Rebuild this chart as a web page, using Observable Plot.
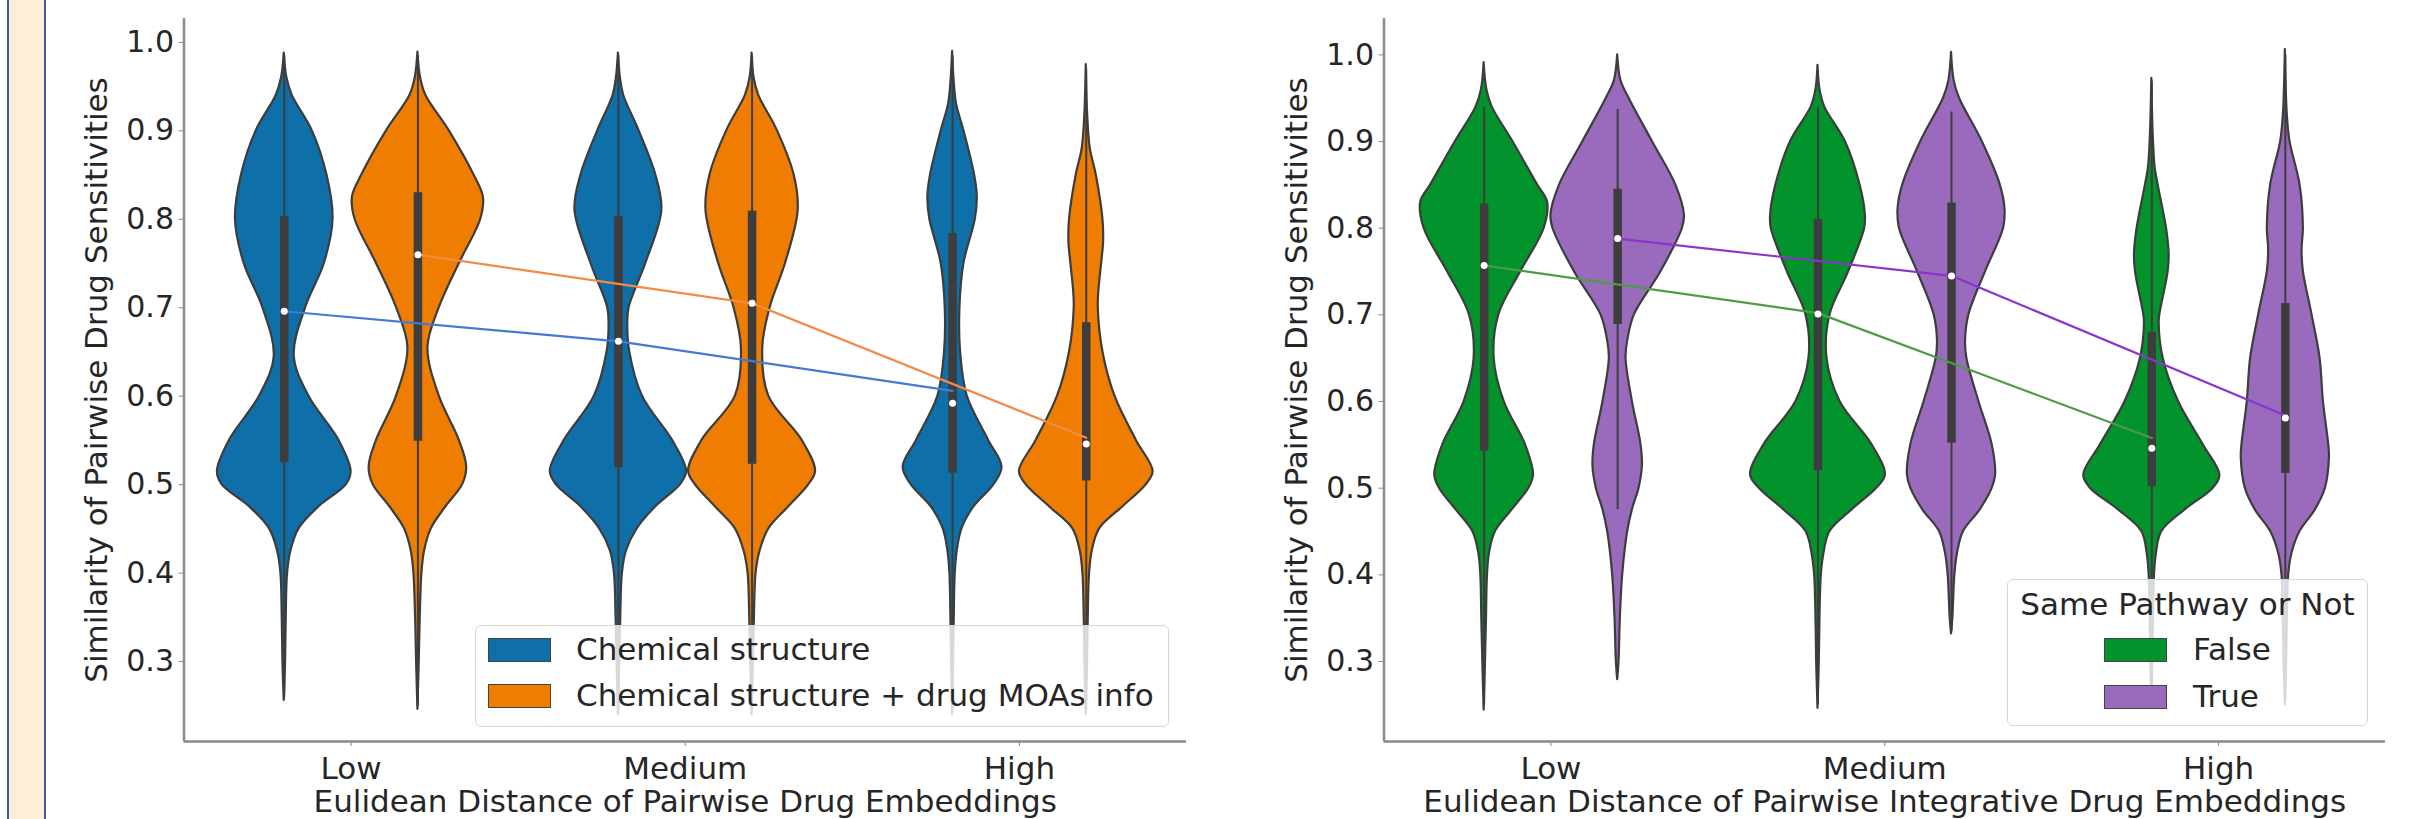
<!DOCTYPE html>
<html><head><meta charset="utf-8">
<script src="https://cdn.jsdelivr.net/npm/d3@7"></script>
<script src="https://cdn.jsdelivr.net/npm/@observablehq/plot@0.6"></script>
<style>
html,body{margin:0;padding:0;background:#fff;}
body{width:2414px;height:819px;overflow:hidden;font-family:"DejaVu Sans",sans-serif;}
#wrap{position:relative;width:2414px;height:819px;}
.panel{position:absolute;top:0;}
.cream{position:absolute;left:7px;top:0;width:35px;height:819px;background:#fdefd6;border-left:2px solid #3a5aa8;border-right:2px solid #3a5aa8;}
.legend{position:absolute;background:rgba(255,255,255,0.8);border:1.5px solid #d8d8d8;border-radius:6px;box-sizing:border-box;}
.sw{position:absolute;width:63px;height:24px;box-sizing:border-box;border:1.5px solid #444;}
.lt{position:absolute;line-height:1;white-space:nowrap;font-size:31px;color:#262626;font-family:"DejaVu Sans",sans-serif;}
</style></head>
<body><div id="wrap"></div>
<script>
// ---------- data ----------
const categories = ["Low", "Medium", "High"];
const yTicks = [0.3, 0.4, 0.5, 0.6, 0.7, 0.8, 0.9, 1.0];
const leftSeries = ["Chemical structure", "Chemical structure + drug MOAs info"];
const rightSeries = ["False", "True"];
const rightLegendTitle = "Same Pathway or Not";

// violin profiles: [value, relative half-width]
const chemLow = [[0.256,0],[0.30,0.02],[0.35,0.03],[0.40,0.05],[0.425,0.1],[0.45,0.22],[0.475,0.52],[0.50,0.93],[0.515,1.0],[0.55,0.82],[0.60,0.37],[0.645,0.15],[0.70,0.32],[0.75,0.6],[0.80,0.73],[0.85,0.64],[0.90,0.42],[0.94,0.12],[0.96,0.04],[0.988,0]];
const chemMed = [[0.24,0],[0.30,0.02],[0.35,0.035],[0.40,0.06],[0.425,0.12],[0.45,0.28],[0.475,0.56],[0.50,0.93],[0.515,1.02],[0.55,0.81],[0.60,0.36],[0.65,0.17],[0.68,0.14],[0.70,0.16],[0.75,0.41],[0.81,0.65],[0.85,0.56],[0.90,0.31],[0.94,0.08],[0.96,0.03],[0.988,0]];
const chemHigh = [[0.24,0],[0.30,0.015],[0.35,0.025],[0.40,0.04],[0.425,0.07],[0.45,0.14],[0.475,0.32],[0.50,0.62],[0.52,0.74],[0.55,0.54],[0.60,0.22],[0.65,0.12],[0.70,0.11],[0.75,0.17],[0.80,0.34],[0.825,0.37],[0.85,0.33],[0.90,0.17],[0.93,0.06],[0.96,0.02],[0.99,0]];
const moaLow = [[0.246,0],[0.30,0.02],[0.35,0.035],[0.40,0.06],[0.425,0.1],[0.45,0.2],[0.475,0.42],[0.50,0.67],[0.52,0.73],[0.55,0.62],[0.60,0.32],[0.655,0.15],[0.70,0.32],[0.75,0.62],[0.80,0.94],[0.825,0.98],[0.85,0.84],[0.90,0.47],[0.94,0.12],[0.96,0.04],[0.989,0]];
const moaMed = [[0.24,0],[0.30,0.02],[0.35,0.035],[0.40,0.06],[0.425,0.12],[0.45,0.25],[0.475,0.55],[0.50,0.85],[0.515,0.95],[0.55,0.75],[0.60,0.25],[0.655,0.16],[0.70,0.27],[0.75,0.5],[0.81,0.69],[0.85,0.63],[0.90,0.38],[0.94,0.1],[0.96,0.03],[0.988,0]];
const moaHigh = [[0.24,0],[0.30,0.02],[0.35,0.03],[0.40,0.05],[0.425,0.09],[0.45,0.2],[0.475,0.55],[0.50,0.9],[0.515,1.0],[0.55,0.75],[0.60,0.43],[0.65,0.25],[0.70,0.18],[0.72,0.19],[0.75,0.23],[0.775,0.26],[0.80,0.25],[0.85,0.15],[0.88,0.06],[0.92,0.02],[0.975,0]];
const falseLow = [[0.244,0],[0.30,0.02],[0.35,0.035],[0.40,0.05],[0.425,0.08],[0.45,0.17],[0.475,0.42],[0.50,0.67],[0.515,0.74],[0.55,0.62],[0.60,0.3],[0.65,0.15],[0.70,0.22],[0.75,0.55],[0.80,0.9],[0.83,0.95],[0.85,0.8],[0.90,0.43],[0.94,0.12],[0.96,0.04],[0.991,0]];
const falseMed = [[0.246,0],[0.30,0.02],[0.35,0.03],[0.40,0.05],[0.425,0.09],[0.45,0.18],[0.475,0.51],[0.50,0.88],[0.515,1.01],[0.55,0.81],[0.60,0.33],[0.65,0.135],[0.70,0.18],[0.75,0.46],[0.80,0.7],[0.815,0.71],[0.85,0.63],[0.90,0.41],[0.94,0.1],[0.96,0.03],[0.988,0]];
const falseHigh = [[0.25,0],[0.30,0.015],[0.35,0.025],[0.40,0.04],[0.425,0.07],[0.45,0.15],[0.475,0.5],[0.50,0.92],[0.515,1.02],[0.55,0.77],[0.60,0.4],[0.65,0.17],[0.69,0.11],[0.70,0.12],[0.75,0.245],[0.77,0.26],[0.80,0.22],[0.85,0.095],[0.87,0.05],[0.91,0.02],[0.973,0]];
const trueLow = [[0.279,0],[0.30,0.02],[0.35,0.04],[0.40,0.075],[0.45,0.15],[0.475,0.22],[0.50,0.32],[0.525,0.37],[0.55,0.35],[0.60,0.22],[0.65,0.125],[0.67,0.15],[0.70,0.25],[0.75,0.65],[0.80,0.97],[0.815,1.0],[0.85,0.87],[0.90,0.52],[0.95,0.17],[0.97,0.05],[1.0,0]];
const trueMed = [[0.332,0],[0.35,0.02],[0.40,0.05],[0.425,0.09],[0.45,0.18],[0.475,0.43],[0.50,0.61],[0.515,0.66],[0.55,0.61],[0.60,0.41],[0.65,0.23],[0.67,0.21],[0.70,0.26],[0.75,0.51],[0.80,0.78],[0.823,0.8],[0.85,0.73],[0.90,0.46],[0.95,0.12],[0.97,0.04],[1.003,0]];
const trueHigh = [[0.25,0],[0.30,0.02],[0.35,0.03],[0.40,0.05],[0.425,0.1],[0.45,0.22],[0.475,0.45],[0.50,0.6],[0.535,0.66],[0.55,0.65],[0.60,0.57],[0.65,0.52],[0.70,0.4],[0.75,0.27],[0.775,0.25],[0.80,0.27],[0.85,0.22],[0.90,0.07],[0.93,0.03],[1.006,0]];

// inner box stats: [whisker low, q1, median, q3, whisker high]
const chemBox = [[0.26,0.525,0.696,0.803,0.985],[0.245,0.519,0.662,0.803,0.985],[0.245,0.513,0.592,0.784,0.985]];
const moaBox = [[0.25,0.549,0.760,0.830,0.985],[0.245,0.523,0.705,0.809,0.985],[0.245,0.504,0.546,0.683,0.97]];
const falseBox = [[0.25,0.543,0.757,0.828,0.94],[0.25,0.520,0.701,0.810,0.94],[0.255,0.502,0.546,0.680,0.97]];
const trueBox = [[0.475,0.689,0.788,0.845,0.937],[0.335,0.552,0.745,0.829,0.934],[0.255,0.517,0.581,0.713,1.0]];

// connecting lines (per category)
const chemLine = [0.696, 0.662, 0.606];
const moaLine = [0.760, 0.705, 0.553];
const falseLine = [0.757, 0.702, 0.558];
const trueLine = [0.788, 0.745, 0.584];

// ---------- drawing ----------
const dark = "#3d3d3d";
const ink = "#262626";
const offsets = [-0.2, 0.2];

function panel(o) {
  const marks = [];
  marks.push(Plot.ruleX([-0.5], {stroke: "#8a8a8a", strokeWidth: 2.5}));
  marks.push(Plot.ruleY([o.yDomain[0]], {stroke: "#8a8a8a", strokeWidth: 2.5}));
  o.profiles.forEach((series, s) => series.forEach((prof, g) => {
    const rows = prof.map(([v, w]) => ({v, w, c: g + offsets[s]}));
    marks.push(Plot.areaX(rows, {
      y: "v", x1: d => d.c - d.w * 0.2, x2: d => d.c + d.w * 0.2,
      fill: o.colors[s], stroke: dark, strokeWidth: 2.2, curve: "catmull-rom"
    }));
  }));
  const boxRows = [];
  o.boxes.forEach((series, s) => series.forEach((b, g) => {
    boxRows.push({c: g + offsets[s], lo: b[0], q1: b[1], med: b[2], q3: b[3], hi: b[4]});
  }));
  marks.push(Plot.ruleX(boxRows, {x: "c", y1: "lo", y2: "hi", stroke: dark, strokeWidth: 2}));
  marks.push(Plot.ruleX(boxRows, {x: "c", y1: "q1", y2: "q3", stroke: dark, strokeWidth: 8.5}));
  o.lines.forEach((vals, s) => {
    const rows = vals.map((v, g) => ({c: g + offsets[s], v}));
    marks.push(Plot.line(rows, {x: "c", y: "v", stroke: o.lineColors[s], strokeWidth: 2.2}));
  });
  marks.push(Plot.dot(boxRows, {x: "c", y: "med", r: 3.5, fill: "white", stroke: "none"}));
  marks.push(Plot.axisY({ticks: yTicks, tickFormat: d3.format(".1f"), tickSize: 5, tickPadding: 5,
    fontSize: 30, stroke: "#8a8a8a", fill: ink, label: null}));
  marks.push(Plot.axisX({ticks: [0, 1, 2], tickFormat: i => categories[i], tickSize: 5, tickPadding: 10,
    fontSize: 31, stroke: "#8a8a8a", fill: ink, label: null}));
  marks.push(Plot.text([o.ylabel], {frameAnchor: "left", textAnchor: "middle", lineAnchor: "middle",
    dx: -87, rotate: -90, fontSize: 31, fill: ink}));
  marks.push(Plot.text([o.xlabel], {frameAnchor: "bottom", textAnchor: "middle", lineAnchor: "middle",
    dy: 61, fontSize: 31, fill: ink}));
  return Plot.plot({
    width: o.width, height: 819,
    marginLeft: 183.5, marginRight: o.marginRight, marginTop: 18, marginBottom: 78,
    x: {domain: [-0.5, 2.5]},
    y: {domain: o.yDomain},
    style: {fontFamily: "DejaVu Sans", background: "transparent", color: ink, overflow: "visible"},
    marks
  });
}

const wrap = document.getElementById("wrap");

const left = panel({
  width: 1200, marginRight: 14, yDomain: [0.2096, 1.027],
  profiles: [[chemLow, chemMed, chemHigh], [moaLow, moaMed, moaHigh]],
  boxes: [chemBox, moaBox],
  lines: [chemLine, moaLine],
  colors: ["#0f6fa8", "#ee7d02"],
  lineColors: ["#4479d6", "#f38a45"],
  ylabel: "Similarity of Pairwise Drug Sensitivities",
  xlabel: "Eulidean Distance of Pairwise Drug Embeddings"
});
left.classList.add("panel"); left.style.left = "0px"; left.style.position = "absolute";
wrap.appendChild(left);

const right = panel({
  width: 1214, marginRight: 29, yDomain: [0.2077, 1.042],
  profiles: [[falseLow, falseMed, falseHigh], [trueLow, trueMed, trueHigh]],
  boxes: [falseBox, trueBox],
  lines: [falseLine, trueLine],
  colors: ["#03932c", "#9a6bbd"],
  lineColors: ["#519a45", "#8a34cc"],
  ylabel: "Similarity of Pairwise Drug Sensitivities",
  xlabel: "Eulidean Distance of Pairwise Integrative Drug Embeddings"
});
right.classList.add("panel"); right.style.left = "1200px"; right.style.position = "absolute";
wrap.appendChild(right);

function el(cls, css, text) {
  const d = document.createElement("div");
  d.className = cls;
  Object.assign(d.style, css);
  if (text != null) d.textContent = text;
  wrap.appendChild(d);
  return d;
}
// left legend
el("legend", {left: "475px", top: "625px", width: "694px", height: "102px"});
el("sw", {left: "488px", top: "638px", background: "#0f6fa8"});
el("sw", {left: "488px", top: "684px", background: "#ee7d02"});
el("lt", {left: "576px", top: "634px"}, leftSeries[0]);
el("lt", {left: "576px", top: "680px"}, leftSeries[1]);
// right legend
el("legend", {left: "2007px", top: "579px", width: "361px", height: "147px"});
el("lt", {left: "2007px", top: "589px", width: "361px", textAlign: "center"}, rightLegendTitle);
el("sw", {left: "2104px", top: "638px", background: "#03932c"});
el("sw", {left: "2104px", top: "685px", background: "#9a6bbd"});
el("lt", {left: "2193px", top: "634px"}, rightSeries[0]);
el("lt", {left: "2193px", top: "681px"}, rightSeries[1]);
// poster edge strip
el("cream", {});
</script>
</body></html>
